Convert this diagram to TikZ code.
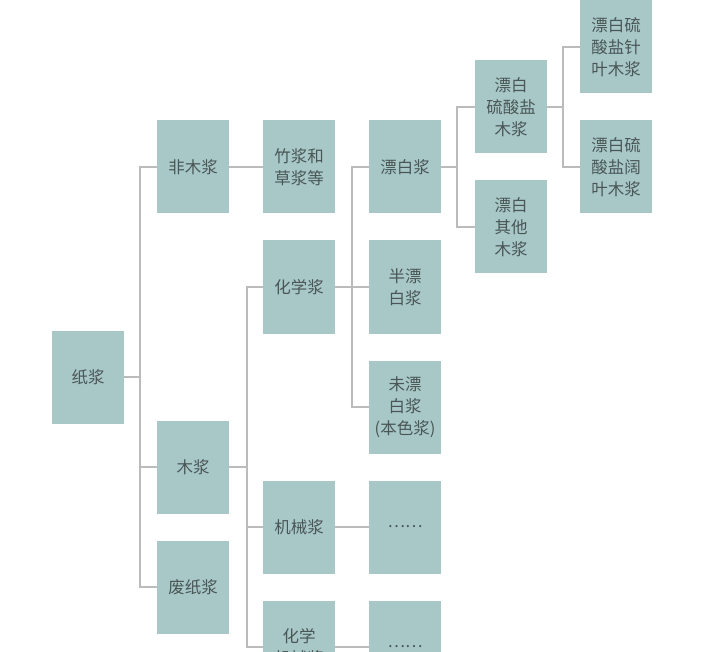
\documentclass[tikz,border=0pt]{standalone}
\usepackage{fontspec}
\setmainfont{Noto Sans CJK SC}
\definecolor{pulpfill}{HTML}{A8C8C8}
\definecolor{pulptext}{HTML}{4A5656}
\definecolor{linkgray}{HTML}{BBBBBB}
\begin{document}
\begin{tikzpicture}[x=1pt,y=-1pt,
  box/.style={rectangle,fill=pulpfill,minimum width=72pt,minimum height=93pt,
    inner sep=0pt,align=center,text=pulptext,font=\fontsize{16.5}{22}\selectfont},
  link/.style={draw=linkgray,line width=1.6pt}]
	\useasboundingbox (0,0) rectangle (720,652);
	\clip (0,0) rectangle (720,652);
	% first two levels
	\node[box] (pulp) at (88,377) {纸浆};
	\node[box] (nonwood) at (193,167) {非木浆};
	\node[box] (wood) at (193,467) {木浆};
	\node[box] (waste) at (193,587) {废纸浆};
	% third level
	\node[box] (bamboo) at (299,167) {竹浆和\\草浆等};
	\node[box] (chem) at (299,287) {化学浆};
	\node[box] (mech) at (299,527) {机械浆};
	\node[box] (chemmech) at (299,647) {化学\\机械浆};
	% fourth level
	\node[box] (bleached) at (405,167) {漂白浆};
	\node[box] (semi) at (405,287) {半漂\\白浆};
	\node[box] (unbl) at (405,407) {未漂\\白浆\\(本色浆)};
	\node[box] (mechdots) at (405,527) {……};
	\node[box] (cmdots) at (405,647) {……};
	% bleached pulp
	\node[box] (kraft) at (511,107) {漂白\\硫酸盐\\木浆};
	\node[box] (other) at (511,227) {漂白\\其他\\木浆};
	\node[box] (soft) at (616,47) {漂白硫\\酸盐针\\叶木浆};
	\node[box] (hard) at (616,167) {漂白硫\\酸盐阔\\叶木浆};
	% connectors
	\foreach \c in {nonwood,wood,waste}
		\draw[link] (pulp.east) -- ++(16,0) |- (\c.west);
	\draw[link] (nonwood) -- (bamboo);
	\foreach \c in {chem,mech,chemmech}
		\draw[link] (wood.east) -- ++(18,0) |- (\c.west);
	\foreach \c in {bleached,semi,unbl}
		\draw[link] (chem.east) -- ++(17,0) |- (\c.west);
	\draw[link] (mech) -- (mechdots);
	\draw[link] (chemmech) -- (cmdots);
	\foreach \c in {kraft,other}
		\draw[link] (bleached.east) -- ++(16,0) |- (\c.west);
	\foreach \c in {soft,hard}
		\draw[link] (kraft.east) -- ++(16,0) |- (\c.west);
\end{tikzpicture}
\end{document}
